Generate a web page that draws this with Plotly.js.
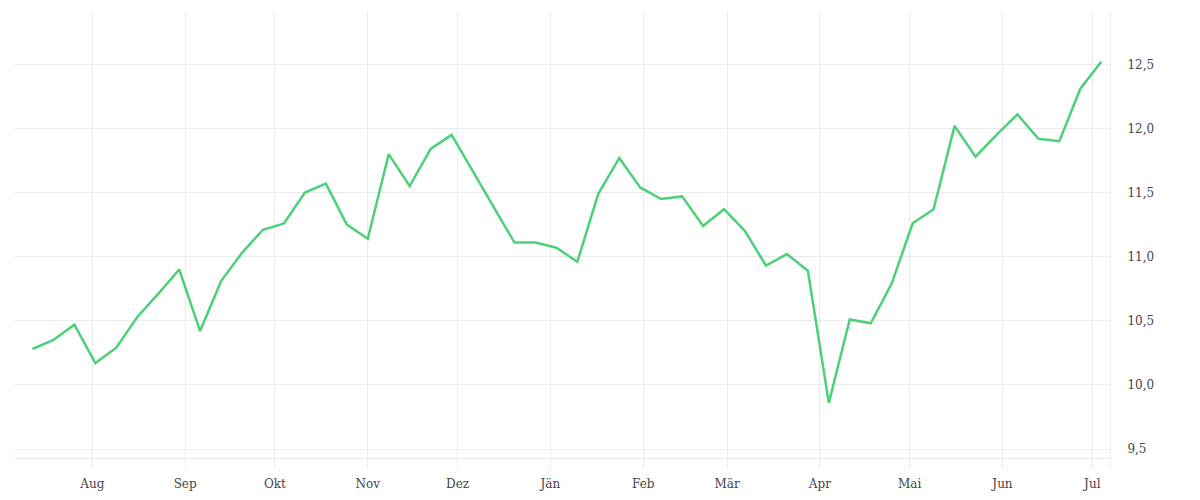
<!DOCTYPE html>
<html>
<head>
<meta charset="utf-8">
<script src="https://cdn.plot.ly/plotly-3.0.1.min.js"></script>
<style>
    html, body { margin: 0; padding: 0; background: #fff; }
    #chart { width: 1200px; height: 500px; }
</style>
</head>
<body>
<div id="chart"></div>
<script>

// weekly values (Fridays)
var weekDates = [
    '2024-07-12', '2024-07-19', '2024-07-26',
    '2024-08-02', '2024-08-09', '2024-08-16', '2024-08-23', '2024-08-30',
    '2024-09-06', '2024-09-13', '2024-09-20', '2024-09-27',
    '2024-10-04', '2024-10-11', '2024-10-18', '2024-10-25',
    '2024-11-01', '2024-11-08', '2024-11-15', '2024-11-22', '2024-11-29',
    '2024-12-06', '2024-12-13', '2024-12-20', '2024-12-27',
    '2025-01-03', '2025-01-10', '2025-01-17', '2025-01-24', '2025-01-31',
    '2025-02-07', '2025-02-14', '2025-02-21', '2025-02-28',
    '2025-03-07', '2025-03-14', '2025-03-21', '2025-03-28',
    '2025-04-04', '2025-04-11', '2025-04-18', '2025-04-25',
    '2025-05-02', '2025-05-09', '2025-05-16', '2025-05-23', '2025-05-30',
    '2025-06-06', '2025-06-13', '2025-06-20', '2025-06-27',
    '2025-07-04'
];

var weekValues = [
    10.28, 10.35, 10.47,
    10.17, 10.29, 10.53, 10.71, 10.90,
    10.42, 10.81, 11.03, 11.21,
    11.26, 11.50, 11.57, 11.25,
    11.14, 11.80, 11.55, 11.84, 11.95,
    11.67, 11.40, 11.11, 11.11,
    11.07, 10.96, 11.49, 11.77, 11.54,
    11.45, 11.47, 11.24, 11.37,
    11.20, 10.93, 11.02, 10.89,
    9.86, 10.51, 10.48, 10.79,
    11.26, 11.37, 12.02, 11.78, 11.95,
    12.11, 11.92, 11.90, 12.31,
    12.52
];

var monthTicks = [
    '2024-08-01', '2024-09-01', '2024-10-01', '2024-11-01', '2024-12-01', '2025-01-01',
    '2025-02-01', '2025-03-01', '2025-04-01', '2025-05-01', '2025-06-01', '2025-07-01'
];
var monthLabels = ['Aug', 'Sep', 'Okt', 'Nov', 'Dez', 'Jän', 'Feb', 'Mär', 'Apr', 'Mai', 'Jun', 'Jul'];

var gridColor = '#ebebeb';
var textFont = { family: 'DejaVu Serif', size: 12, color: '#444' };

function linePlot(plotElementID) {

    let trace = {
        x: weekDates,
        y: weekValues,
        type: 'scatter',
        mode: 'lines',
        line: {
            color: '#4dd07a',
            width: 2.5
        },
        hoverinfo: 'x+y'
    };

    let layout = {
        width: 1200,
        height: 500,
        showlegend: false,
        separators: ',.',
        paper_bgcolor: '#fff',
        plot_bgcolor: '#fff',
        margin: { l: 15, r: 90, t: 12, b: 42, pad: 0 },
        xaxis: {
            type: 'date',
            range: ['2024-07-06 04:00', '2025-07-06 22:00'],
            tickmode: 'array',
            tickvals: monthTicks,
            ticktext: monthLabels,
            ticks: 'outside',
            ticklen: 10,
            tickcolor: gridColor,
            tickwidth: 1,
            ticklabelstandoff: 5,
            showgrid: true,
            gridcolor: gridColor,
            showline: true,
            linecolor: gridColor,
            linewidth: 1,
            zeroline: false,
            tickfont: textFont
        },
        yaxis: {
            side: 'right',
            range: [9.43, 12.908],
            tickmode: 'linear',
            tick0: 9.5,
            dtick: 0.5,
            tickformat: '.1f',
            ticks: '',
            ticklabelstandoff: 14,
            showgrid: true,
            gridcolor: gridColor,
            showline: true,
            linecolor: gridColor,
            linewidth: 1,
            zeroline: false,
            tickfont: textFont
        },
        shapes: [{
            // right frame line runs down past the x axis like the month ticks
            type: 'line',
            xref: 'paper', yref: 'paper',
            x0: 1, x1: 1,
            y0: -0.0224, y1: 0,
            line: { color: gridColor, width: 1 }
        }]
    };

    Plotly.newPlot(plotElementID, [trace], layout, { displayModeBar: false, staticPlot: true });
}

linePlot('chart');
</script>
</body>
</html>
